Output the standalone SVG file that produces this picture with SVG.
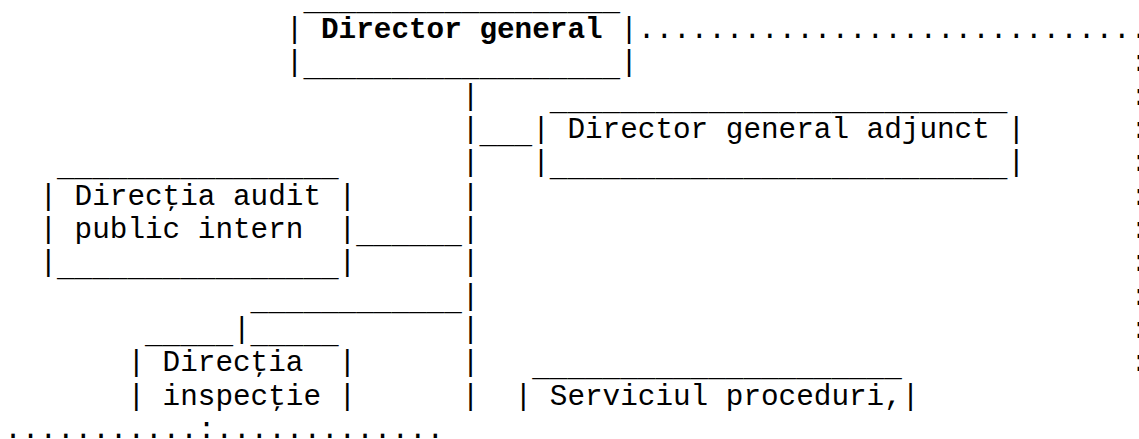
<svg xmlns="http://www.w3.org/2000/svg" width="1139" height="439" viewBox="0 0 1139 439">
<style>
text{font-family:"Courier New","Nimbus Mono PS","Nimbus Mono L","FreeMono","Liberation Mono",monospace;font-size:29.33px;fill:#000;white-space:pre}
.b{font-weight:bold}
</style>
<rect width="1139" height="439" fill="#fff"/>
<g id="connectors" xml:space="preserve">
<text x="637.8" y="38">.............................</text>
<text x="1130.6" y="71.33">:</text>
<text x="1130.6" y="104.67">:</text>
<text x="1130.6" y="138">:</text>
<text x="1130.6" y="171.33">:</text>
<text x="1130.6" y="204.67">:</text>
<text x="1130.6" y="238">:</text>
<text x="1130.6" y="271.33">:</text>
<text x="1130.6" y="304.67">:</text>
<text x="1130.6" y="338">:</text>
<text x="1130.6" y="371.33">:</text>
<text x="461.8" y="104.67">|</text>
<text x="461.8" y="138">|</text>
<text x="479.4" y="143">___</text>
<text x="461.8" y="171.33">|</text>
<text x="461.8" y="204.67">|</text>
<text x="356.2" y="243">______</text>
<text x="461.8" y="238">|</text>
<text x="461.8" y="271.33">|</text>
<text x="250.6" y="309.67">____________</text>
<text x="461.8" y="304.67">|</text>
<text x="233" y="338">|</text>
<text x="461.8" y="338">|</text>
<text x="461.8" y="371.33">|</text>
<text x="461.8" y="404.67">|</text>
<text x="4.2" y="438">...........:.............</text>
</g>
<g id="director-general" xml:space="preserve">
<text x="303.4" y="9.67">__________________</text>
<text x="285.8" y="38">| <tspan class="b">Director general</tspan> |</text>
<text x="285.8" y="71.33">|</text>
<text x="303.4" y="76.33">__________________</text>
<text x="620.2" y="71.33">|</text>
</g>
<g id="director-general-adjunct" xml:space="preserve">
<text x="549.8" y="109.67">__________________________</text>
<text x="532.2" y="138">| Director general adjunct |</text>
<text x="532.2" y="171.33">|</text>
<text x="549.8" y="176.33">__________________________</text>
<text x="1007.4" y="171.33">|</text>
</g>
<g id="directia-audit" xml:space="preserve">
<text x="57" y="176.33">________________</text>
<text x="39.4" y="204.67">| Direcţia audit |</text>
<text x="39.4" y="238">| public intern  |</text>
<text x="39.4" y="271.33">|</text>
<text x="57" y="276.33">________________</text>
<text x="338.6" y="271.33">|</text>
</g>
<g id="directia-inspectie" xml:space="preserve">
<text x="145" y="343">_____</text>
<text x="250.6" y="343">_____</text>
<text x="127.4" y="371.33">| Direcţia  |</text>
<text x="127.4" y="404.67">| inspecţie |</text>
</g>
<g id="serviciul-proceduri" xml:space="preserve">
<text x="532.2" y="376.33">_____________________</text>
<text x="514.6" y="404.67">| Serviciul proceduri,|</text>
</g>
</svg>
